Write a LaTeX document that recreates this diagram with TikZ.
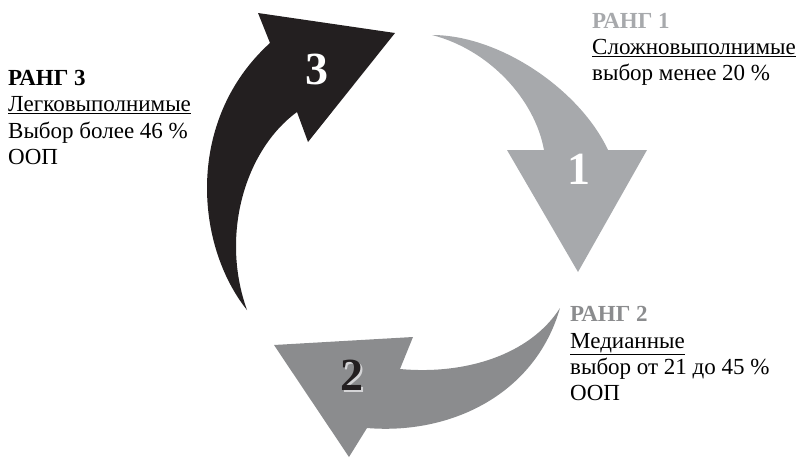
\documentclass[tikz,border=0pt]{standalone}
\usepackage{fontspec}
\setmainfont{Liberation Serif}
\definecolor{arrowblack}{HTML}{231F20}
\definecolor{arrowlight}{HTML}{A7A9AC}
\definecolor{arrowmid}{HTML}{8B8C8E}
\definecolor{shadowgrey}{HTML}{D4D4D6}
\tikzset{
  label/.style={anchor=north west, inner sep=0pt, align=left, font=\fontsize{23}{26.3}\selectfont},
  num/.style={inner sep=0pt, font=\fontsize{46}{46}\selectfont\bfseries},
}
\begin{document}
\begin{tikzpicture}[x=1pt,y=-1pt]
\useasboundingbox (0,0) rectangle (801,458);
% arrow 3 (black)
\fill[arrowblack] (247,310) .. controls (195,245) and (185,120) .. (270,43)
  -- (258,13) -- (395,33) -- (308,142) -- (297,112)
  .. controls (245,150) and (220,235) .. (247,310) -- cycle;
% arrow 1 (light grey)
\fill[arrowlight] (432,35) .. controls (500,35) and (580,90) .. (608,150)
  -- (647,150) -- (578,272) -- (507,150) -- (544,150)
  .. controls (535,100) and (490,50) .. (432,35) -- cycle;
% arrow 2 (mid grey)
\fill[arrowmid] (560,308) .. controls (530,355) and (465,375) .. (400,369)
  -- (413,337) -- (274,345) -- (349,457) -- (367,428)
  .. controls (450,435) and (535,395) .. (560,308) -- cycle;
% numbers
\node[num, text=white] (n3) at (317,69) {3};
\node[num, text=white] (n1) at (579,169) {1};
\node[num, text=arrowblack] (n2) at (352,376) {\makebox[0pt][l]{\hspace{1.6pt}\raisebox{-1.6pt}{\textcolor{shadowgrey}{2}}}2};
% labels
\node[label] (r3) at (8,70) {\textbf{РАНГ 3}\\\underline{Легковыполнимые}\\Выбор более 46 \%\\ООП};
\node[label] (r1) at (592,13) {\textcolor{arrowlight}{\textbf{РАНГ 1}}\\\underline{Сложновыполнимые}\\выбор менее 20 \%};
\node[label] (r2) at (570,306.5) {\textcolor{arrowmid}{\textbf{РАНГ 2}}\\\underline{Медианные}\\выбор от 21 до 45 \%\\ООП};
\end{tikzpicture}
\end{document}
